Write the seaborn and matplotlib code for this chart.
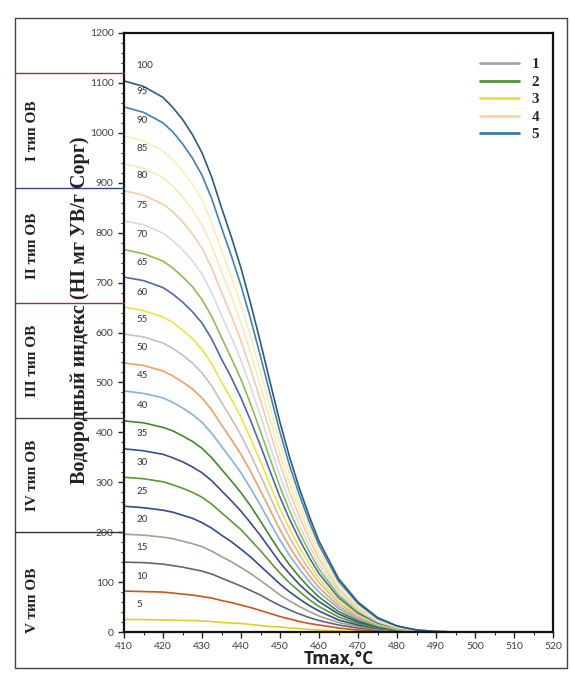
import matplotlib
matplotlib.use("Agg")
import matplotlib.pyplot as plt
import matplotlib.transforms as mtrans
from matplotlib.lines import Line2D
import numpy as np
import pandas as pd
import seaborn as sns

# ---------------- data ----------------
tmax = [410, 415, 420, 422.5, 425, 427.5, 430, 432.5, 435, 437.5, 440, 442.5, 445, 447.5,
        450, 452.5, 455, 457.5, 460, 465, 470, 475, 480, 485, 490, 495, 500, 520]

curve_labels = [5, 10, 15, 20, 25, 30, 35, 40, 45, 50, 55, 60, 65, 70, 75, 80, 85, 90, 95, 100]

hi_05 = [25, 25, 24, 24, 23, 23, 22, 21, 19, 18, 17, 15, 13, 11, 10, 8, 7, 5, 4, 2, 1, 1, 0, 0, 0, 0, 0, 0]
hi_10 = [82, 81, 80, 78, 76, 74, 71, 68, 63, 59, 54, 49, 43, 37, 31, 26, 21, 17, 14, 8, 4, 2, 1, 0, 0, 0, 0, 0]
hi_15 = [140, 139, 136, 133, 130, 126, 122, 116, 108, 100, 92, 83, 74, 63, 53, 44, 36, 29, 23, 14, 8, 4, 2, 1, 0, 0, 0, 0]
hi_20 = [196, 194, 190, 187, 182, 177, 171, 162, 151, 141, 129, 117, 103, 89, 74, 62, 51, 41, 32, 19, 11, 5, 2, 1, 0, 0, 0, 0]
hi_25 = [252, 249, 244, 240, 234, 228, 219, 208, 194, 181, 166, 150, 132, 114, 96, 80, 66, 53, 42, 24, 14, 7, 3, 1, 0, 0, 0, 0]
hi_30 = [310, 307, 301, 295, 288, 280, 270, 256, 239, 222, 205, 184, 163, 140, 118, 98, 81, 65, 51, 30, 17, 8, 3, 1, 0, 0, 0, 0]
hi_35 = [367, 363, 356, 349, 341, 331, 319, 303, 283, 263, 242, 218, 193, 166, 139, 116, 95, 77, 61, 36, 20, 10, 4, 1, 0, 0, 0, 0]
hi_40 = [423, 419, 410, 403, 393, 382, 368, 349, 326, 303, 279, 252, 222, 191, 161, 134, 110, 89, 70, 41, 23, 11, 5, 2, 0, 0, 0, 0]
hi_45 = [483, 478, 469, 460, 449, 436, 420, 398, 372, 346, 319, 287, 254, 218, 184, 153, 126, 101, 80, 47, 26, 13, 5, 2, 0, 0, 0, 0]
hi_50 = [539, 534, 523, 513, 501, 487, 469, 445, 415, 386, 356, 321, 283, 244, 205, 170, 140, 113, 89, 52, 29, 14, 6, 2, 1, 0, 0, 0]
hi_55 = [597, 591, 579, 568, 555, 539, 519, 493, 460, 428, 394, 355, 313, 270, 227, 189, 155, 125, 99, 58, 32, 16, 7, 2, 1, 0, 0, 0]
hi_60 = [651, 644, 631, 620, 605, 588, 566, 537, 501, 467, 430, 387, 342, 294, 247, 206, 169, 137, 107, 63, 35, 17, 7, 3, 1, 0, 0, 0]
hi_65 = [711, 704, 690, 677, 661, 642, 619, 587, 547, 510, 469, 423, 373, 321, 270, 225, 185, 149, 117, 69, 38, 18, 8, 3, 1, 0, 0, 0]
hi_70 = [766, 758, 743, 729, 712, 692, 666, 632, 590, 549, 506, 456, 402, 346, 291, 242, 199, 161, 126, 74, 41, 20, 8, 3, 1, 0, 0, 0]
hi_75 = [824, 816, 799, 784, 766, 744, 717, 680, 634, 591, 544, 490, 433, 372, 313, 260, 214, 173, 136, 80, 44, 21, 9, 3, 1, 0, 0, 0]
hi_80 = [884, 875, 857, 842, 822, 798, 769, 729, 681, 634, 583, 526, 464, 400, 336, 279, 230, 186, 146, 86, 48, 23, 10, 4, 1, 0, 0, 0]
hi_85 = [938, 929, 910, 893, 872, 847, 816, 774, 722, 673, 619, 558, 492, 424, 356, 296, 244, 197, 155, 91, 51, 24, 10, 4, 1, 0, 0, 0]
hi_90 = [994, 984, 964, 946, 924, 898, 865, 820, 765, 713, 656, 591, 522, 449, 378, 314, 258, 209, 164, 96, 54, 26, 11, 4, 1, 0, 0, 0]
hi_95 = [1052, 1041, 1020, 1002, 978, 950, 915, 868, 810, 754, 694, 626, 552, 476, 400, 332, 274, 221, 174, 102, 57, 27, 12, 4, 1, 0, 0, 0]
hi_100 = [1104, 1093, 1071, 1051, 1027, 997, 960, 911, 850, 792, 729, 657, 580, 499, 420, 349, 287, 232, 182, 107, 60, 29, 12, 4, 1, 0, 0, 0]

all_curves = [hi_05, hi_10, hi_15, hi_20, hi_25, hi_30, hi_35, hi_40, hi_45, hi_50,
              hi_55, hi_60, hi_65, hi_70, hi_75, hi_80, hi_85, hi_90, hi_95, hi_100]

type_labels = ["I тип ОВ", "II тип ОВ", "III тип ОВ", "IV тип ОВ", "V тип ОВ"]
type_bounds = [1120, 890, 659, 429, 200]

legend_labels = ["1", "2", "3", "4", "5"]

# ---------------- style ----------------
curve_colors = ["#E2CC2A", "#C8561E", "#5E6673", "#A79E90", "#2F4C8E",
                "#5C9A34", "#3A4C8A", "#3F8A2A", "#86B2DE", "#EFA066",
                "#C7C0B6", "#F2E23E", "#4A68B0", "#8CBF50", "#D3DDEA",
                "#F8CBA6", "#F3EBB8", "#F7F0B4", "#3C82B8", "#2F5A78"]
legend_colors = ["#A9A39A", "#4F9434", "#E8E040", "#F5D2B4", "#3C78A8"]
bound_colors = ["#8B3A3A", "#2B4A7A", "#8B3A3A", "#444444", "#333333"]

sns.set_style("ticks")
plt.rcParams["font.family"] = ["DejaVu Sans"]

W, H = 571, 678
fig = plt.figure(figsize=(W / 100, H / 100), dpi=100)
ax = fig.add_axes([124 / W, 1 - 632 / H, (553 - 124) / W, (632 - 33) / H])

rows = []
for lab, vals in zip(curve_labels, all_curves):
    for t, v in zip(tmax, vals):
        rows.append({"Tmax": t, "HI": v, "curve": str(lab)})
df = pd.DataFrame(rows)

sns.lineplot(data=df, x="Tmax", y="HI", hue="curve",
             palette=dict(zip([str(c) for c in curve_labels], curve_colors)),
             hue_order=[str(c) for c in curve_labels],
             estimator=None, sort=False, legend=False, linewidth=1.2, ax=ax)

ax.set_xlim(410, 520)
ax.set_ylim(0, 1200)
ax.set_xticks(np.arange(410, 521, 10))
ax.set_yticks(np.arange(0, 1201, 100))
ax.set_xticks(np.arange(410, 521, 5), minor=True)
ax.set_yticks(np.arange(0, 1201, 20), minor=True)
ax.tick_params(axis="both", which="major", direction="out", length=4, width=1,
               labelsize=7.5, labelcolor="#404040", color="#222222")
ax.tick_params(axis="both", which="minor", direction="out", length=2.5, width=0.8, color="#222222")
for lab in ax.get_xticklabels() + ax.get_yticklabels():
    lab.set_family("Lato")
for s in ax.spines.values():
    s.set_visible(True)
    s.set_linewidth(1.6)
    s.set_color("#111111")
ax.set_xlabel("")
ax.set_ylabel("")

# curve labels
for lab, vals in zip(curve_labels, all_curves):
    ax.text(413.2, vals[0] + 30, str(lab), fontsize=7, color="#333333",
            family="Lato", ha="left", va="center")

# x label
fig.text(338.5 / W, 1 - 659 / H, "Tmax,°C", fontsize=12.5, fontweight="bold",
         family="Open Sans", color="#222222", ha="center", va="center")

# y label
fig.text(80 / W, 1 - 310 / H, "Водородный индекс (HI мг УВ/г Сорг)", rotation=90,
         fontsize=14.5, fontweight="bold", family="Liberation Serif", color="#222222",
         ha="center", va="center")

# outer frame
x0, x1, y0, y1 = 15 / W, 567 / W, 1 - 668 / H, 1 - 18 / H
for xs, ys in [((x0, x1), (y0, y0)), ((x0, x1), (y1, y1)),
               ((x0, x0), (y0, y1)), ((x1, x1), (y0, y1))]:
    fig.add_artist(Line2D(xs, ys, transform=fig.transFigure, color="#444444", lw=1.0))

# type boundaries (figure x, data y)
blend = mtrans.blended_transform_factory(fig.transFigure, ax.transData)
for b, c in zip(type_bounds, bound_colors):
    fig.add_artist(Line2D((x0, 124 / W), (b, b), transform=blend, color=c, lw=1.0, clip_on=False))

centers = [(type_bounds[i] + type_bounds[i + 1]) / 2 for i in range(4)] + [64]
for lab, yc in zip(type_labels, centers):
    fig.text(33 / W, yc, lab, transform=blend, rotation=90, fontsize=11, fontweight="bold",
             family="Liberation Serif", color="#222222", ha="center", va="center")

# legend
handles = [Line2D([0], [0], color=c, lw=2) for c in legend_colors]
leg = fig.legend(handles, legend_labels, loc="upper left", bbox_to_anchor=(466 / W, 1 - 44 / H),
                 frameon=False, handlelength=2.6, handletextpad=0.8, labelspacing=0.25,
                 prop={"family": "Liberation Serif", "weight": "bold", "size": 11})

fig.savefig("out.png", dpi=100, facecolor="white")
